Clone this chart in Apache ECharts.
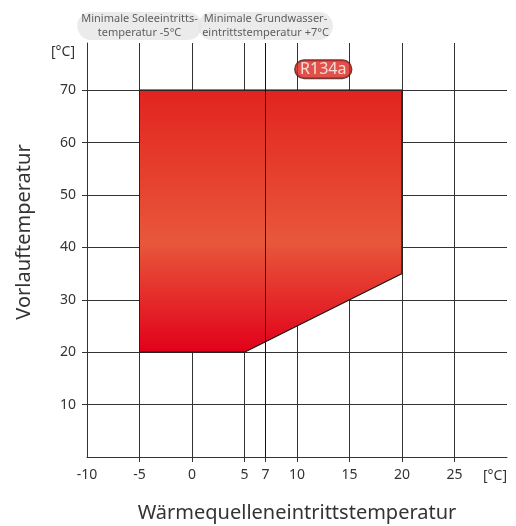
<!DOCTYPE html>
<html>
<head>
<meta charset="utf-8">
<script src="https://cdn.jsdelivr.net/npm/echarts@6/dist/echarts.min.js"></script>
<style>html,body{margin:0;padding:0;background:#fff}#c{width:516px;height:526px}</style>
</head>
<body>
<div id="c"></div>
<script>
// Operating envelope (polygon vertices, in data units)
const envelopeX = [-5, -5, 20, 20, 5];
const envelopeY = [20, 70, 70, 35, 20];
// Axis ticks
const xTicks = [-5, 0, 5, 7, 10, 15, 20, 25];
const xLabels = [-10, -5, 0, 5, 7, 10, 15, 20, 25];
const yTicks = [10, 20, 30, 40, 50, 60, 70];
// Annotations
const annotX = [-5, 7];
const annotText = ['Minimale Soleeintritts-\ntemperatur -5°C', 'Minimale Grundwasser-\neintrittstemperatur +7°C'];
const refrigerant = ['R134a'];
const refrigerantPos = [12.5, 74];
const groundwaterMin = 7;
const xTitle = 'Wärmequelleneintrittstemperatur';
const yTitle = 'Vorlauftemperatur';

const FONT = '"Noto Sans", "Open Sans", sans-serif';
const TXT = '#333';
const LINE = '#333';

const chart = echarts.init(document.getElementById('c'));
chart.setOption({
  animation: false,
  grid: { left: 87, right: 9, top: 43, bottom: 69, containLabel: false },
  xAxis: {
    type: 'value', min: -10, max: 30, interval: 5,
    name: '[°C]', nameLocation: 'end', nameGap: 0,
    nameTextStyle: { fontFamily: FONT, fontSize: 14, color: TXT, align: 'right', verticalAlign: 'top', padding: [12, 0, 0, 0] },
    axisLine: { show: true, onZero: false, lineStyle: { color: LINE, width: 1 } },
    axisTick: { show: true, length: 5, customValues: xTicks, lineStyle: { color: LINE } },
    axisLabel: { customValues: xLabels, margin: 11, fontFamily: FONT, fontSize: 14, color: TXT },
    splitLine: { show: true, lineStyle: { color: LINE, width: 1 } }
  },
  yAxis: {
    type: 'value', min: 0, max: 79, interval: 10,
    name: yTitle, nameLocation: 'middle', nameGap: 53,
    nameTextStyle: { fontFamily: FONT, fontSize: 20, color: TXT, padding: [0, 0, 0, 36] },
    axisLine: { show: true, onZero: false, lineStyle: { color: LINE, width: 1 } },
    axisTick: { show: true, length: 5, customValues: yTicks, lineStyle: { color: LINE } },
    axisLabel: { customValues: yTicks, margin: 11, fontFamily: FONT, fontSize: 14, color: TXT },
    splitLine: { show: true, lineStyle: { color: LINE, width: 1 } }
  },
  series: [
    {
      type: 'custom',
      z: 3,
      data: [0],
      renderItem: function (params, api) {
        const pts = envelopeX.map((x, i) => api.coord([x, envelopeY[i]]));
        return {
          type: 'polygon',
          shape: { points: pts },
          style: {
            fill: new echarts.graphic.LinearGradient(0, 0, 0, 1, [
              { offset: 0, color: '#e2231f' },
              { offset: 0.58, color: '#e8573b' },
              { offset: 1, color: '#e2001a' }
            ]),
            stroke: '#222', lineWidth: 1
          }
        };
      },
      markLine: {
        silent: true, symbol: 'none', z: 4,
        label: { show: false },
        lineStyle: { color: '#111', width: 1, type: 'solid', opacity: 1 },
        emphasis: { disabled: true },
        data: [{ xAxis: groundwaterMin }]
      }
    },
    {
      type: 'scatter', z: 5, symbolSize: 0, silent: true,
      data: annotX.map((x, i) => ({ value: [x, 79], name: annotText[i] })),
      label: {
        show: true, position: 'top', distance: 3,
        formatter: p => p.name,
        fontFamily: FONT, fontSize: 11, color: '#3a3a3a', lineHeight: 14, align: 'center',
        backgroundColor: '#e6e6e6', borderRadius: 14, padding: [0, 4]
      }
    },
    {
      type: 'scatter', z: 6, symbolSize: 0, silent: true,
      data: [{ value: refrigerantPos, name: refrigerant[0] }],
      label: {
        show: true, position: 'inside',
        formatter: p => p.name,
        fontFamily: FONT, fontSize: 16, color: '#fff',
        backgroundColor: '#d8261b', borderColor: '#3a0f0c', borderWidth: 1,
        borderRadius: 11, padding: [1, 5, 1, 5]
      }
    }
  ]
});
// Titles / unit label positioned from the axis scales
const xMid = chart.convertToPixel({ xAxisIndex: 0 }, 10);
const yTop = chart.convertToPixel({ yAxisIndex: 0 }, 79);
const yLeft = chart.convertToPixel({ xAxisIndex: 0 }, -10);
chart.setOption({
  graphic: [{
    type: 'text', x: xMid, y: 503,
    style: { text: xTitle, font: '20px ' + FONT, fill: TXT, textAlign: 'center', textVerticalAlign: 'top' }
  }, {
    type: 'text', x: yLeft - 12, y: yTop + 2,
    style: { text: '[°C]', font: '14px ' + FONT, fill: TXT, textAlign: 'right', textVerticalAlign: 'top' }
  }]
});
</script>
</body>
</html>
